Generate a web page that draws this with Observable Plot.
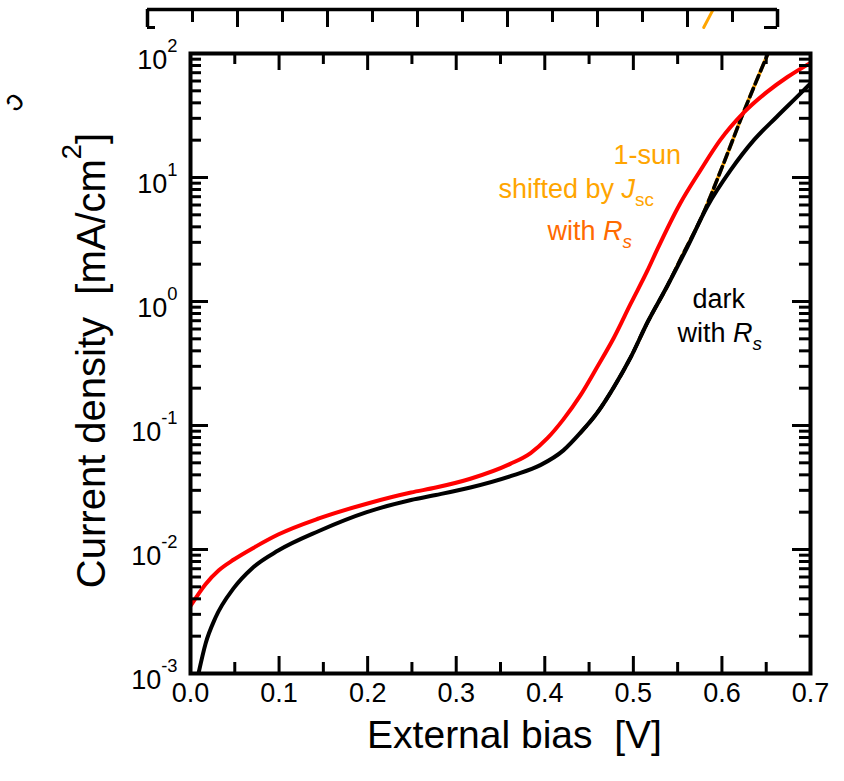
<!DOCTYPE html>
<html><head><meta charset="utf-8">
<script src="https://cdn.jsdelivr.net/npm/d3@7"></script>
<script src="https://cdn.jsdelivr.net/npm/@observablehq/plot@0.6"></script>
<style>
html,body{margin:0;padding:0;background:#fff;}
#wrap{position:relative;width:844px;height:781px;overflow:hidden;background:#fff;}
#wrap svg{position:absolute;left:0;top:0;}
svg text{white-space:pre;}
</style></head><body><div id="wrap"></div>
<script>
// ---- data ----
const darkV = [0.009,0.017,0.028,0.049,0.07,0.099,0.145,0.199,0.249,0.277,0.316,0.365,0.395,0.421,0.44,0.459,0.478,0.497,0.516,0.538,0.561,0.583,0.61,0.636,0.662,0.689,0.7];
const darkJ = [1.0e-3,1.74e-3,2.8e-3,4.9e-3,7.1e-3,9.8e-3,0.0141,0.020,0.0251,0.0275,0.0316,0.0398,0.0479,0.063,0.087,0.126,0.204,0.355,0.68,1.32,2.75,5.75,11.5,20,30.9,47.9,57.5];
const redV = [0,0.017,0.032,0.049,0.073,0.099,0.145,0.199,0.249,0.277,0.316,0.361,0.384,0.403,0.421,0.44,0.459,0.478,0.497,0.516,0.527,0.553,0.576,0.598,0.624,0.651,0.674,0.7];
const redJ = [3.5e-3,5.25e-3,6.8e-3,8.3e-3,0.0105,0.0132,0.0178,0.0234,0.0288,0.0316,0.0372,0.049,0.060,0.079,0.112,0.174,0.295,0.51,0.96,1.78,2.63,6.2,11.5,20,33,49,64.6,84];
const dashV = [0.44,0.459,0.478,0.497,0.516,0.538,0.556,0.576,0.60,0.624,0.652];
const dashJ = [0.087,0.126,0.204,0.355,0.68,1.32,2.4,4.6,12,33,100];

const xMajor = [0,0.1,0.2,0.3,0.4,0.5,0.6,0.7];
const xMinor = [0.05,0.15,0.25,0.35,0.45,0.55,0.65];
const xTickLabels = ["0.0","0.1","0.2","0.3","0.4","0.5","0.6","0.7"];
const yMajor = [1e-3,1e-2,1e-1,1,10,100];
const yTickLabels = ["10{sup:-3}","10{sup:-2}","10{sup:-1}","10{sup:0}","10{sup:1}","10{sup:2}"];
const yMinor = [];
for (const d of [1e-3,1e-2,1e-1,1,10]) for (const m of [2,3,4,5,6,7,8,9]) yMinor.push(m*d);

const xTitle = "External bias  [V]";
const yTitle = "Current density  [mA/cm{sup:2}]";
const legendSun = ["1-sun", "shifted by {i:J}{sub:sc}", "with {i:R}{subi:s}"];
const legendDark = ["dark", "with {i:R}{subi:s}"];

// fragment of the neighbouring panel above
const topMajor = [0.1,0.2,0.3,0.4,0.5,0.6];
const topMinor = [0.05,0.15,0.25,0.35,0.45,0.55,0.65];
const topSegV = [0.618,0.628];
const topSegT = [0,0.95];

const dark = darkV.map((v,i)=>({v, j: darkJ[i]}));
const red = redV.map((v,i)=>({v, j: redJ[i]}));
const dash = dashV.map((v,i)=>({v, j: dashJ[i]}));
const topSeg = topSegV.map((v,i)=>({v, t: topSegT[i]}));

const W = 844, H = 781, ML = 190, MR = 34, MT = 53, MB = 108;
const FW = W-ML-MR, FH = H-MT-MB;
const FONT = "'Liberation Sans', Arial, sans-serif";
const fs = 27;
const base = (yb, f) => yb - MT - 0.32*f; // baseline -> dy from frame top

const legMarks = [];
const legPos = [
  {t: legendSun[0], x: 613, y: 153, c: "#FFA500"},
  {t: legendSun[1], x: 498, y: 187, c: "#FFA500"},
  {t: legendSun[2], x: 547, y: 229, c: "#FF6A00"},
  {t: legendDark[0], x: 692, y: 297, c: "#000"},
  {t: legendDark[1], x: 677, y: 331, c: "#000"}
];
legPos.forEach((p) => legMarks.push(Plot.text([p.t], {text: d=>d, frameAnchor:"top-left", textAnchor:"start", dx: p.x-ML, dy: base(p.y, fs), fill: p.c, fontSize: fs})));

const mainPlot = Plot.plot({
  width: W, height: H, marginLeft: ML, marginRight: MR, marginTop: MT, marginBottom: MB,
  style: {fontFamily: FONT, background: "none", color: "#000"},
  x: {domain: [0, 0.7], axis: null},
  y: {type: "log", domain: [1e-3, 1e2], axis: null},
  marks: [
    Plot.line(dash, {x: "v", y: "j", stroke: "#FFA500", strokeWidth: 3.6, curve: "monotone-x", clip: true}),
    Plot.line(dash, {x: "v", y: "j", stroke: "#000", strokeWidth: 3.6, strokeDasharray: "9,5", curve: "monotone-x", clip: true}),
    Plot.line(dark, {x: "v", y: "j", stroke: "#000", strokeWidth: 4, curve: "monotone-x", clip: true}),
    Plot.line(red, {x: "v", y: "j", stroke: "#FF0000", strokeWidth: 4, curve: "monotone-x", clip: true}),
    Plot.tickX(xMajor, {x: d=>d, insetTop: FH-17, stroke: "#000", strokeWidth: 3}),
    Plot.tickX(xMinor, {x: d=>d, insetTop: FH-11, stroke: "#000", strokeWidth: 3}),
    Plot.tickX(xMajor, {x: d=>d, insetBottom: FH-17, stroke: "#000", strokeWidth: 3}),
    Plot.tickX(xMinor, {x: d=>d, insetBottom: FH-11, stroke: "#000", strokeWidth: 3}),
    Plot.tickY(yMajor, {y: d=>d, insetRight: FW-18, stroke: "#000", strokeWidth: 3}),
    Plot.tickY(yMinor, {y: d=>d, insetRight: FW-11, stroke: "#000", strokeWidth: 3}),
    Plot.tickY(yMajor, {y: d=>d, insetLeft: FW-18, stroke: "#000", strokeWidth: 3}),
    Plot.tickY(yMinor, {y: d=>d, insetLeft: FW-11, stroke: "#000", strokeWidth: 3}),
    Plot.frame({stroke: "#000", strokeWidth: 4}),
    Plot.text(xMajor, {x: d=>d, text: (d,i)=>xTickLabels[i], frameAnchor: "bottom", dy: 28, fontSize: fs, fill: "#000"}),
    Plot.text(yMajor, {y: d=>d, text: (d,i)=>yTickLabels[i], frameAnchor: "left", textAnchor: "end", dx: -13, dy: 15-0.32*fs, fontSize: fs, fill: "#000"}),
    Plot.text([xTitle], {text: d=>d, frameAnchor: "bottom", textAnchor: "middle", dx: 14, dy: 760-(MT+FH)-0.32*39, fontSize: 39, fill: "#000"}),
    Plot.text([yTitle], {text: d=>d, frameAnchor: "left", textAnchor: "middle", dx: -98, dy: -3, rotate: -90, fontSize: 40, fill: "#000"}),
    Plot.text(["c"], {text: d=>d, frameAnchor: "top-left", textAnchor: "middle", dx: 24-ML, dy: 111-MT, rotate: 135, fontSize: 30, fill: "#000"}),
    ...legMarks
  ]
});

const topPlot = Plot.plot({
  width: W, height: 40, marginLeft: 147, marginRight: W-777, marginTop: 9, marginBottom: 13,
  style: {background: "none"},
  x: {domain: [0, 0.7], axis: null},
  y: {domain: [0, 1], axis: null},
  marks: [
    Plot.line(topSeg, {x: "v", y: "t", stroke: "#FFA500", strokeWidth: 3}),
    Plot.ruleY([1], {stroke: "#000", strokeWidth: 3.5}),
    Plot.ruleX([0, 0.7], {stroke: "#000", strokeWidth: 3.5}),
    Plot.tickX(topMajor, {x: d=>d, stroke: "#000", strokeWidth: 3}),
    Plot.tickX(topMinor, {x: d=>d, insetBottom: 5, stroke: "#000", strokeWidth: 3}),
    Plot.tickY([0], {y: d=>d, insetRight: 630-8, stroke: "#000", strokeWidth: 3}),
    Plot.tickY([0], {y: d=>d, insetLeft: 630-13, stroke: "#000", strokeWidth: 3})
  ]
});

const wrap = document.getElementById("wrap");
wrap.appendChild(topPlot);
wrap.appendChild(mainPlot);

// turn {sup:..}, {sub:..}, {i:..}, {subi:..} markup into tspans
d3.select(mainPlot).selectAll("text").each(function () {
  const src = this.textContent;
  if (!src.includes("{")) return;
  const f = parseFloat(getComputedStyle(this).fontSize) || fs;
  const el = d3.select(this);
  el.text(null);
  const re = /\{(\w+):([^}]*)\}/g;
  let last = 0, m, pending = 0;
  const put = (txt, kind) => {
    if (!txt) return;
    const t = el.append("tspan").text(txt);
    let shift = 0;
    if (kind === "sup") { t.attr("font-size", f*0.68); shift = -0.62*f; }
    if (kind === "sub" || kind === "subi") { t.attr("font-size", f*0.7); shift = 0.28*f; }
    if (kind === "i" || kind === "subi") t.attr("font-style", "italic");
    const dy = shift - pending;
    if (dy) t.attr("dy", dy);
    pending = shift;
  };
  while ((m = re.exec(src))) { put(src.slice(last, m.index), null); put(m[2], m[1]); last = re.lastIndex; }
  put(src.slice(last), null);
});
</script>
</body></html>
